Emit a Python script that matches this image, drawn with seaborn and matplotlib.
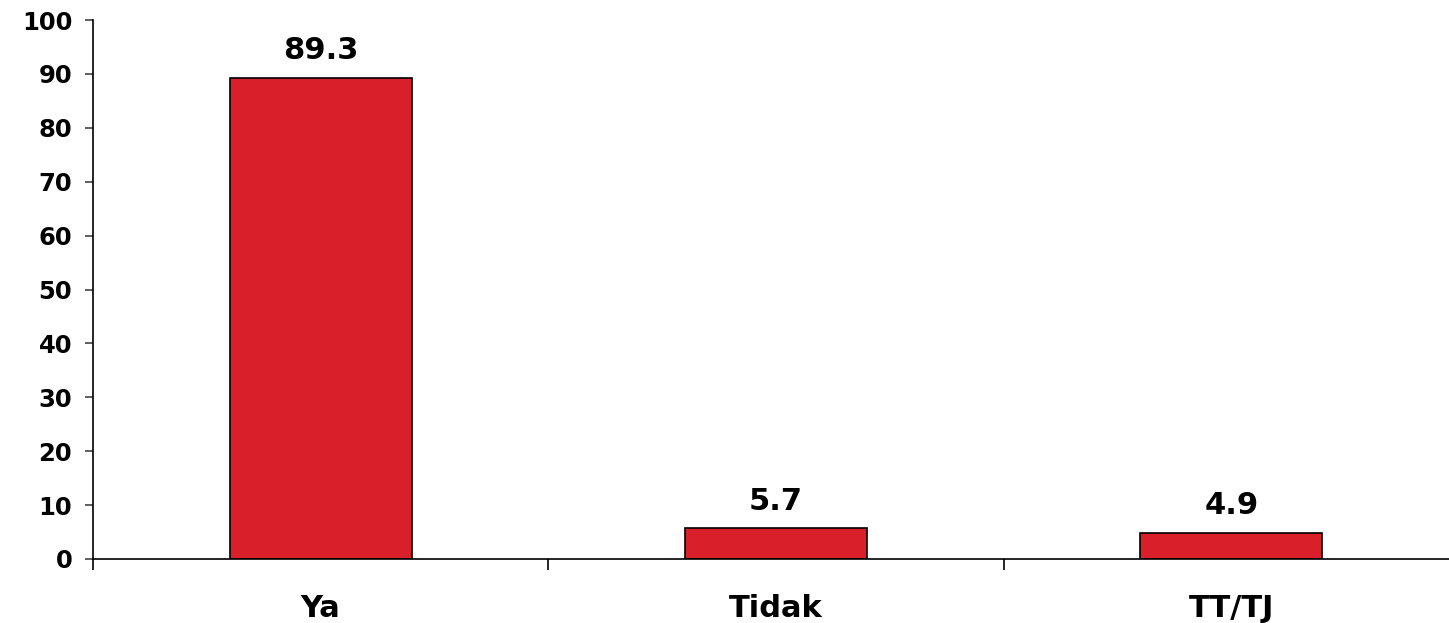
import matplotlib
matplotlib.use("Agg")
import matplotlib.pyplot as plt
import seaborn as sns
import numpy as np
from matplotlib.ticker import FixedLocator

categories = ["Ya", "Tidak", "TT/TJ"]
values = [89.3, 5.7, 4.9]
value_labels = ["89.3", "5.7", "4.9"]
y_ticks = [0, 10, 20, 30, 40, 50, 60, 70, 80, 90, 100]

sns.set_theme(style="white")
plt.rcParams['font.family'] = ['DejaVu Sans']
plt.rcParams['text.color'] = 'black'
plt.rcParams['xtick.color'] = 'black'
plt.rcParams['ytick.color'] = 'black'

fig = plt.figure(figsize=(14.49, 6.23), dpi=100)
ax = fig.add_axes([93/1449, 64/623, 1366/1449, 539/623])

sns.barplot(x=categories, y=values, color="#D91F2A", saturation=1, width=0.4,
            edgecolor="black", linewidth=1.2, ax=ax)

ax.set_xlim(-0.5, 2.5)
ax.set_ylim(0, 100)
ax.set_yticks(y_ticks)
ax.set_yticklabels([str(t) for t in y_ticks], fontsize=17.5, fontweight="bold",
                   color="black")
ax.tick_params(axis="y", which="major", direction="out", length=6, width=1.2,
               color="#444444", left=True, pad=9)

ax.xaxis.set_major_locator(FixedLocator([-0.5, 0.5, 1.5, 2.5]))
ax.set_xticklabels([])
ax.xaxis.set_minor_locator(FixedLocator(range(len(categories))))
ax.set_xticklabels(categories, minor=True, fontsize=22, fontweight="bold",
                   color="black")
ax.tick_params(axis="x", which="major", direction="out", length=8, width=1.2,
               color="black", bottom=True)
ax.tick_params(axis="x", which="minor", length=0, pad=25)

ax.bar_label(ax.containers[0], labels=value_labels, padding=9,
             fontsize=22, fontweight="bold", color="black")

for s in ["top", "right"]:
    ax.spines[s].set_visible(False)
for s in ["left", "bottom"]:
    ax.spines[s].set_color("black")
    ax.spines[s].set_linewidth(1.2)
ax.set_xlabel("")
ax.set_ylabel("")
ax.grid(False)

fig.savefig("out.png", dpi=100, facecolor="white")
